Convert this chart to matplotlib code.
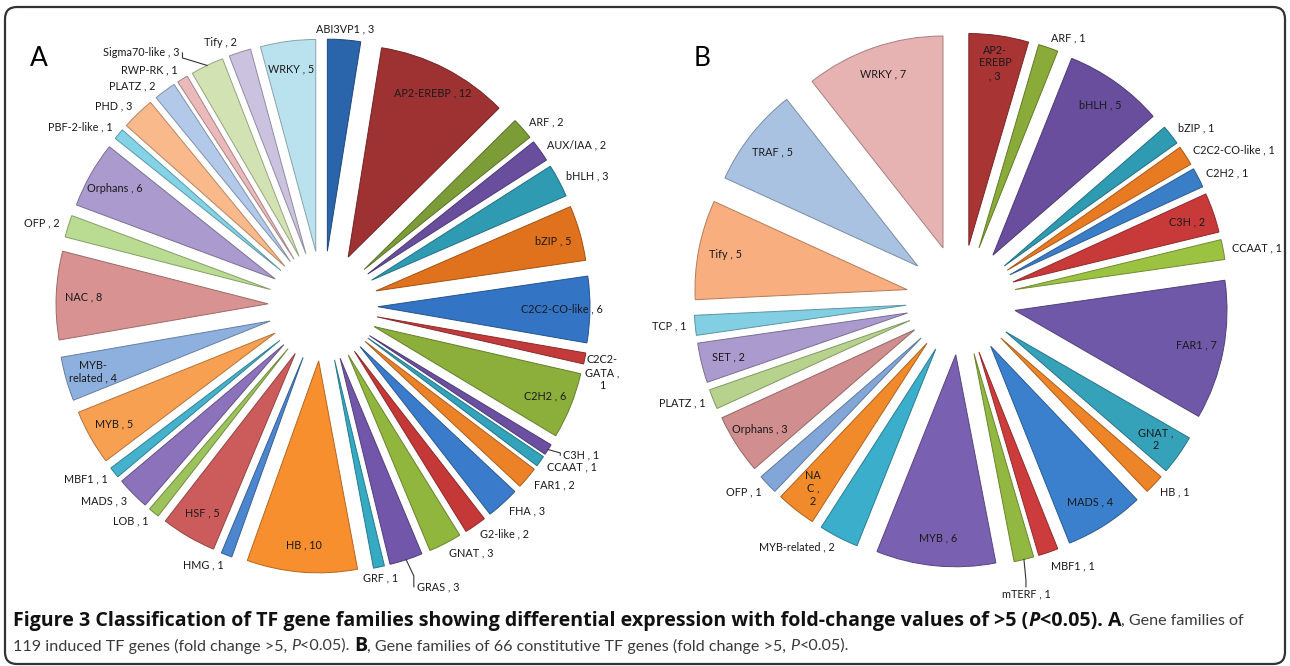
import numpy as np
import matplotlib.pyplot as plt
import matplotlib.colors as mcolors
from matplotlib.patches import FancyBboxPatch

W, H = 1290, 666

# A : 119 induced TF genes
a_names = ['ABI3VP1', 'AP2-EREBP', 'ARF', 'AUX/IAA', 'bHLH', 'bZIP', 'C2C2-CO-like',
           'C2C2-GATA', 'C2H2', 'C3H', 'CCAAT', 'FAR1', 'FHA', 'G2-like', 'GNAT',
           'GRAS', 'GRF', 'HB', 'HMG', 'HSF', 'LOB', 'MADS', 'MBF1', 'MYB',
           'MYB-related', 'NAC', 'OFP', 'Orphans', 'PBF-2-like', 'PHD', 'PLATZ',
           'RWP-RK', 'Sigma70-like', 'Tify', 'WRKY']
a_values = [3, 12, 2, 2, 3, 5, 6, 1, 6, 1, 1, 2, 3, 2, 3, 3, 1, 10, 1, 5, 1, 3, 1, 5,
            4, 8, 2, 6, 1, 3, 2, 1, 3, 2, 5]
a_colors = ['#2a64aa', '#9e3232', '#7c9c38', '#6a4e9e', '#2f9bb3', '#e0721e', '#3474c4',
            '#c23a3a', '#8caf3c', '#6b50a2', '#33a3bc', '#ec8228', '#3a7ccb', '#c43838',
            '#90b63e', '#7256aa', '#36a9c3', '#f88f2e', '#4c86cf', '#cc5c5c', '#9cc25c',
            '#8c72ba', '#44b2cc', '#f8a052', '#8eb0de', '#d89292', '#badb92', '#aa9ace',
            '#84d2e6', '#fab98a', '#b2c9e9', '#eab9b9', '#d2e2b2', '#cac2de', '#bae2ee']

# B : 66 constitutive TF genes
b_names = ['AP2-EREBP', 'ARF', 'bHLH', 'bZIP', 'C2C2-CO-like', 'C2H2', 'C3H', 'CCAAT',
           'FAR1', 'GNAT', 'HB', 'MADS', 'MBF1', 'mTERF', 'MYB', 'MYB-related', 'NAC',
           'OFP', 'Orphans', 'PLATZ', 'SET', 'TCP', 'Tify', 'TRAF', 'WRKY']
b_values = [3, 1, 5, 1, 1, 1, 2, 1, 7, 2, 1, 4, 1, 1, 6, 2, 2, 1, 3, 1, 2, 1, 5, 5, 7]
b_colors = ['#a83434', '#8aaa3a', '#6a4e9e', '#2f9bb3', '#e87a22', '#3a7ec8', '#c83a3a',
            '#9cc242', '#7058a8', '#35a2ba', '#ee8428', '#3a80cc', '#cc3c3c', '#92b842',
            '#7a60b0', '#3aaecb', '#f08a2a', '#82a6d8', '#d08e8e', '#b6d28c', '#aa9ace',
            '#82cee2', '#f8ae7e', '#aac2e2', '#e6b2b2']

# 줄바꿈 라벨
a_wrap = {'C2C2-GATA': 'C2C2-\nGATA ,\n{v}', 'MYB-related': 'MYB-\nrelated , {v}'}
b_wrap = {'AP2-EREBP': 'AP2-\nEREBP\n, {v}', 'NAC': 'NA\nC ,\n{v}', 'GNAT': 'GNAT ,\n{v}'}

# 리더선 있는 라벨 (dx, dy : 화면 px)
a_nudge = {'Sigma70-like': (-24, -3), 'PLATZ': (-4, 4), 'C3H': (8, 0), 'GRAS': (8, 17),
           'C2C2-GATA': (-8, 12)}
b_nudge = {'mTERF': (0, 24), 'MBF1': (0, 4)}
leader = {'Sigma70-like', 'C3H', 'GRAS', 'mTERF'}

fig = plt.figure(figsize=(12.9, 6.66), dpi=100)
ax = fig.add_axes([0, 0, 1, 1])

label_font = dict(family='Lato', fontsize=7.8, color='#1a1a1a')
R, GAP = 212, 55   # 반지름, 조각 분리 거리 (px)


def draw_pie(names, values, colors, cx, cy, inside, wrap, nudge):
    edge = [tuple(np.array(mcolors.to_rgb(c)) * 0.72) for c in colors]
    wedges, _ = ax.pie(values, colors=colors, startangle=90, counterclock=False,
                       explode=[GAP] * len(values), radius=R, center=(cx, H - cy),
                       wedgeprops=dict(linewidth=0.7), frame=True)
    for w, e, name, v in zip(wedges, edge, names, values):
        w.set_edgecolor(e)
        mid = np.deg2rad((w.theta1 + w.theta2) / 2)
        c, s = np.cos(mid), np.sin(mid)
        x0, y0 = w.center
        txt = wrap.get(name, name + ' , {v}').format(v=v)
        if inside(name, v):
            ax.text(x0 + 0.87 * w.r * c, y0 + 0.87 * w.r * s, txt, ha='center',
                    va='center', multialignment='center', **label_font)
            continue
        tx, ty = x0 + 1.04 * w.r * c, y0 + 1.05 * w.r * s
        ha = 'left' if c > 0.3 else ('right' if c < -0.3 else 'center')
        dx, dy = nudge.get(name, (0, 0))
        tx, ty = tx + dx, ty - dy
        ax.text(tx, ty, txt, ha=ha, va='center', multialignment='center', **label_font)
        if name in leader:
            ex, ey = x0 + w.r * c, y0 + w.r * s
            gx = -3 if ha == 'left' else (3 if ha == 'right' else 0)
            gy = 7 if ha == 'center' else 0
            ax.plot([ex, tx + gx, tx + gx], [ey, ey + (ty - ey) * 0.6, ty + gy],
                    color='#333333', lw=0.8)


draw_pie(a_names, a_values, a_colors, 323, 306,
         lambda n, v: v >= 4, a_wrap, a_nudge)
draw_pie(b_names, b_values, b_colors, 961, 300,
         lambda n, v: v >= 2 and n != 'MYB-related', b_wrap, b_nudge)

ax.text(39, H - 58, 'A', fontsize=19, family='Lato', ha='center', va='center')
ax.text(702, H - 58, 'B', fontsize=19, family='Lato', ha='center', va='center')

# 테두리
ax.add_patch(FancyBboxPatch((5, 2), W - 10, H - 9, boxstyle='round,pad=0,rounding_size=12',
                            fc='none', ec='#333333', lw=1.6))

# 캡션 : 굵은 글씨는 Open Sans, 보통 글씨는 좁은 Lato
bold_font = dict(family='Open Sans', fontsize=14.1, color='#111111', fontweight='bold')
reg_font = dict(family='Lato', fontsize=11.6, color='#3a3a3a', fontweight='normal')
lines = [
    [('Figure 3 Classification of TF gene families showing differential expression '
      'with fold-change values of >5 (', 'b', 'normal'), ('P', 'b', 'italic'),
     ('<0.05). A', 'b', 'normal'), (', Gene families of', 'r', 'normal')],
    [('119 induced TF genes (fold change >5, ', 'r', 'normal'), ('P', 'r', 'italic'),
     ('<0.05). ', 'r', 'normal'), ('B', 'b', 'normal'),
     (', Gene families of 66 constitutive TF genes (fold change >5, ', 'r', 'normal'),
     ('P', 'r', 'italic'), ('<0.05).', 'r', 'normal')],
]
renderer = fig.canvas.get_renderer()
for i, parts in enumerate(lines):
    x = 13
    y = H - (621 + 25 * i)
    for s, kind, st in parts:
        font = bold_font if kind == 'b' else reg_font
        t = ax.text(x, y, s, ha='left', va='center', fontstyle=st, **font)
        x += t.get_window_extent(renderer).width

ax.set_xlim(0, W)
ax.set_ylim(0, H)
ax.set_aspect('equal')
ax.axis('off')

plt.savefig('out.png', dpi=100)
